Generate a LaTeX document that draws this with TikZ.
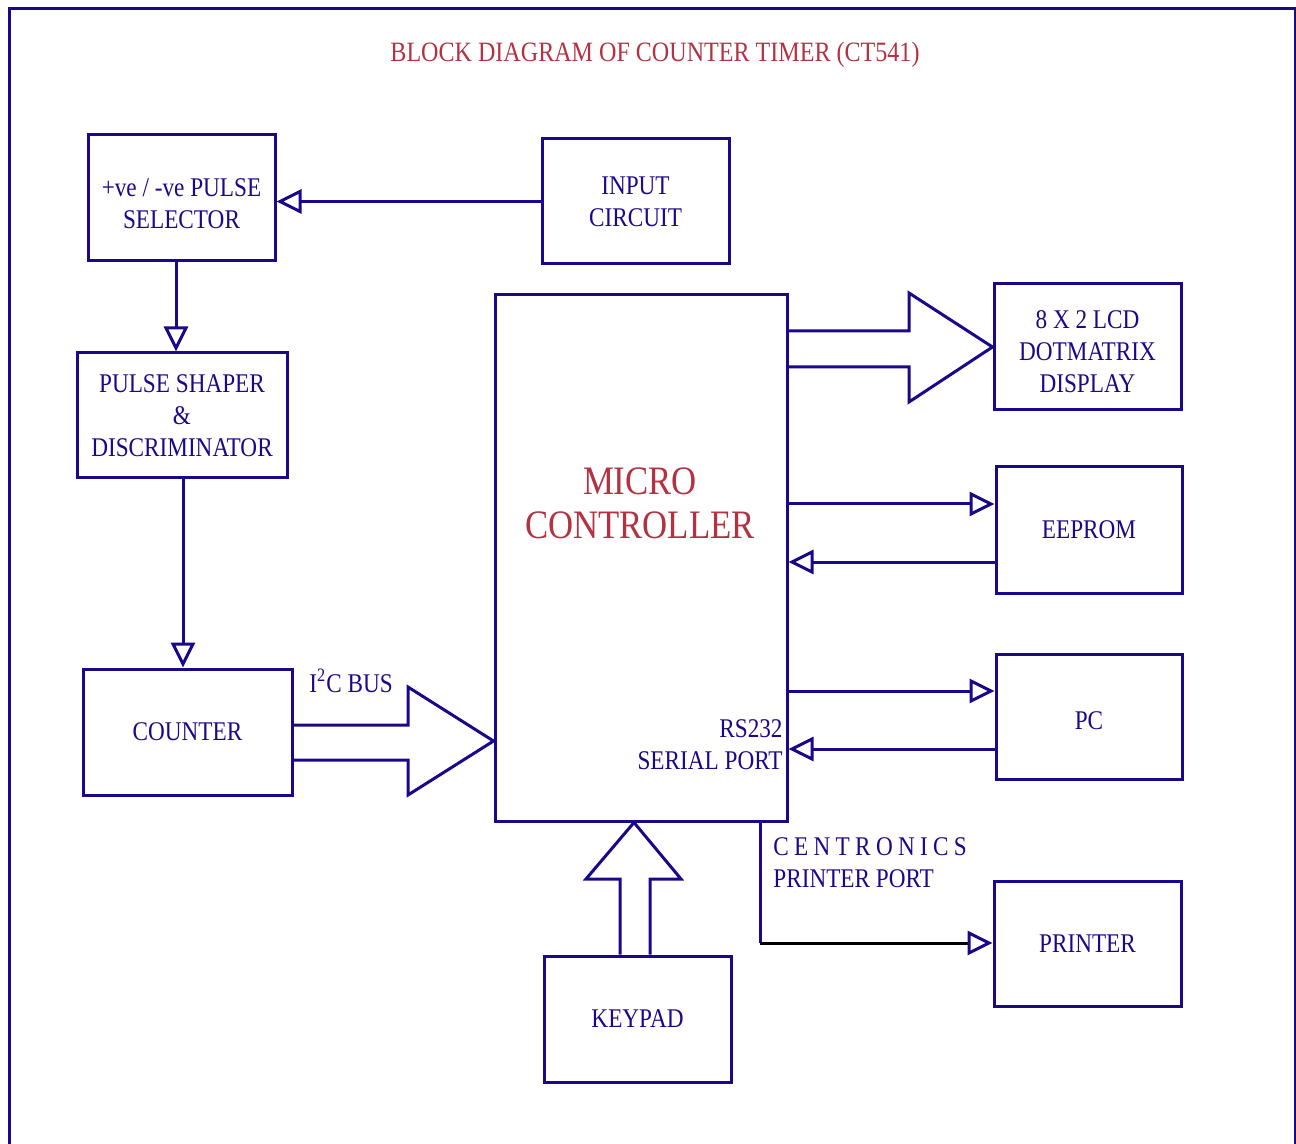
\documentclass[tikz,border=0pt]{standalone}
\usepackage{fontspec}
\setmainfont[FakeStretch=0.86]{Liberation Serif}
\usetikzlibrary{arrows.meta,calc}
\definecolor{myblue}{RGB}{26,8,138}
\definecolor{myred}{RGB}{178,50,66}
\begin{document}
\begin{tikzpicture}[x=0.5pt,y=-0.5pt,
  box/.style={draw=myblue,line width=1.5pt,text=myblue,align=center,inner sep=0pt,
    font=\fontsize{13.5}{16}\selectfont},
  lbl/.style={text=myblue,inner sep=0pt,font=\fontsize{13.5}{16}\selectfont},
  wire/.style={draw=myblue,line width=1.5pt},
  arr/.style={wire,-{Triangle[open,length=12.5pt,width=12pt,line width=1.5pt]}},
  big/.style={draw=myblue,line width=1.5pt,line join=miter}]
\useasboundingbox (0,0) rectangle (1296,1144);
% frame
\draw[myblue,line width=1.5pt] (9,1150) -- (9,9) -- (1295,9) -- (1295,1150);
% title
\node[text=myred,inner sep=0pt,font=\fontsize{14}{16}\selectfont] (title) at (655,55) {BLOCK DIAGRAM OF COUNTER TIMER (CT541)};
% boxes
\node[box,minimum width=93.5pt,minimum height=63pt] (sel) at (181.5,198) {\rule{0pt}{14.5pt}+ve / -ve PULSE\\SELECTOR};
\node[box,minimum width=93.5pt,minimum height=62.5pt] (inp) at (635.5,201.5) {INPUT\\CIRCUIT};
\node[box,minimum width=105pt,minimum height=62.5pt] (shp) at (182,415.5) {PULSE SHAPER\\\&\\DISCRIMINATOR};
\node[box,minimum width=104.5pt,minimum height=63pt] (cnt) at (187.5,732) {COUNTER};
\node[box,minimum width=146pt,minimum height=263pt] (mc) at (641,558) {};
\node[text=myred,align=center,inner sep=0pt,font=\fontsize{20.2}{22}\selectfont] (mclbl) at (640,503) {MICRO\\CONTROLLER};
\node[box,minimum width=93.5pt,minimum height=63pt] (lcd) at (1087.5,347) {\rule{0pt}{14pt}8 X 2 LCD\\DOTMATRIX\\DISPLAY};
\node[box,minimum width=93pt,minimum height=63pt] (eep) at (1089,530) {EEPROM};
\node[box,minimum width=93pt,minimum height=62.5pt] (pc) at (1089,716.5) {\rule{0pt}{13pt}PC};
\node[box,minimum width=93.5pt,minimum height=62.5pt] (prn) at (1087.5,943.5) {PRINTER};
\node[box,minimum width=93.5pt,minimum height=63pt] (key) at (637.5,1019) {KEYPAD};
% labels
\node[lbl,anchor=west] (i2c) at (309,681) {I\textsuperscript{2}C BUS};
\node[lbl,anchor=east,align=right] (rs) at (783,745) {RS232\\SERIAL PORT};
\node[lbl,anchor=west,align=left] (cen) at (773,863) {C\kern2.65pt E\kern2.65pt N\kern2.65pt T\kern2.65pt R\kern2.65pt O\kern2.65pt N\kern2.65pt I\kern2.65pt C\kern2.65pt S\\PRINTER PORT};
% simple connectors
\draw[arr] (inp.west) -- (inp.west -| sel.east);
\draw[arr] ([xshift=-2.75pt]sel.south) -- ([xshift=-2.75pt]sel.south |- shp.north);
\draw[arr] ([xshift=0.5pt]shp.south) -- ([xshift=0.5pt]shp.south |- cnt.north);
\coordinate (e1) at ([yshift=13pt]eep.west);
\coordinate (e2) at ([yshift=-16pt]eep.west);
\draw[arr] (mc.east |- e1) -- (e1);
\draw[arr] (e2) -- (e2 -| mc.east);
\coordinate (p1) at ([yshift=12.75pt]pc.west);
\coordinate (p2) at ([yshift=-16.25pt]pc.west);
\draw[arr] (mc.east |- p1) -- (p1);
\draw[arr] (p2) -- (p2 -| mc.east);
\coordinate (pk) at (760,943);
\draw[wire] (pk |- mc.south) -- (pk);
\draw[black,line width=1.5pt,-{Triangle[open,length=12.5pt,width=12pt,line width=1.5pt,color=myblue]}] (pk) -- (pk -| prn.west);
% big arrows
\draw[big] (cnt.east |- 0,725) -- (408,725) -- (408,687) -- (mc.west |- 0,741) -- (408,795) -- (408,760) -- (cnt.east |- 0,760);
\draw[big] (mc.east |- 0,331) -- (909,331) -- (909,293) -- (lcd.west) -- (909,402) -- (909,367) -- (mc.east |- 0,367);
\draw[big] (620,0 |- key.north) -- (620,879) -- (586,879) -- (634,0 |- mc.south) -- (681,879) -- (650,879) -- (650,0 |- key.north);
\end{tikzpicture}
\end{document}
